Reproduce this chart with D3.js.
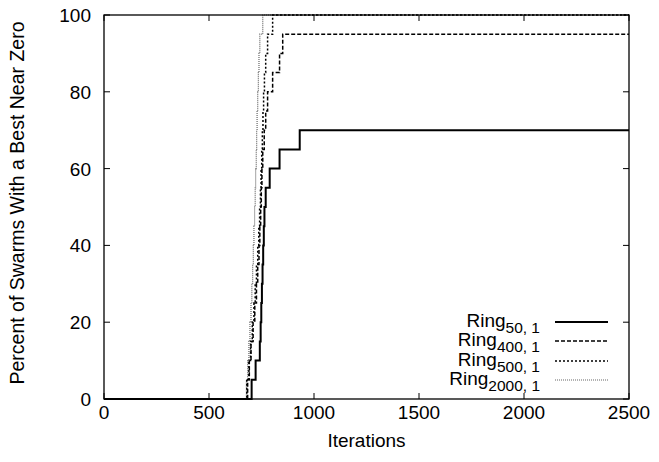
<!DOCTYPE html>
<html>
<head>
<meta charset="utf-8">
<script src="https://cdn.jsdelivr.net/npm/d3@7"></script>
<style>
  html, body { margin: 0; padding: 0; background: #fff; }
  svg { display: block; font-family: "Liberation Sans", Arial, Helvetica, sans-serif; }
</style>
</head>
<body>
<svg id="chart" width="659" height="462"></svg>
<script>
// Step curves: percent of swarms whose best is near zero, by iteration
const ring50Iter  = [0, 703, 722, 742, 746, 749, 752, 755, 758, 761, 764, 770, 789, 836, 932, 2500];
const ring50Pct   = [0, 5, 10, 15, 20, 25, 30, 35, 40, 45, 50, 55, 60, 65, 70, 70];

const ring400Iter = [0, 684, 692, 700, 710, 718, 726, 732, 738, 742, 746, 749, 752, 756, 763, 770, 779, 803, 836, 851, 2500];
const ring400Pct  = [0, 5, 10, 15, 20, 25, 30, 35, 40, 45, 50, 55, 60, 65, 70, 75, 80, 85, 90, 95, 95];

const ring500Iter = [0, 680, 690, 698, 706, 714, 720, 726, 732, 737, 741, 745, 748, 751, 754, 757, 760, 764, 770, 779, 803, 2500];
const ring500Pct  = [0, 5, 10, 15, 20, 25, 30, 35, 40, 45, 50, 55, 60, 65, 70, 75, 80, 85, 90, 95, 100, 100];

const ring2000Iter = [0, 678, 684, 690, 695, 700, 704, 708, 711, 714, 717, 720, 722, 725, 727, 729, 732, 735, 738, 742, 756, 2500];
const ring2000Pct  = [0, 5, 10, 15, 20, 25, 30, 35, 40, 45, 50, 55, 60, 65, 70, 75, 80, 85, 90, 95, 100, 100];

const seriesNames = ["50, 1", "400, 1", "500, 1", "2000, 1"];
const xTicks = [0, 500, 1000, 1500, 2000, 2500];
const yTicks = [0, 20, 40, 60, 80, 100];

const svg = d3.select("#chart");
const W = 659, H = 462;
const plot = { left: 104, right: 629, top: 15, bottom: 399 };

svg.append("rect").attr("width", W).attr("height", H).attr("fill", "#fff");

const x = d3.scaleLinear().domain([0, 2500]).range([plot.left, plot.right]);
const y = d3.scaleLinear().domain([0, 100]).range([plot.bottom, plot.top]);

const styles = [
  { stroke: "#000", width: 2, dash: null },
  { stroke: "#000", width: 1.5, dash: "4,2" },
  { stroke: "#000", width: 1.5, dash: "2,2" },
  { stroke: "#666", width: 1.2, dash: "1,1" }
];

const series = [
  { iter: ring50Iter, pct: ring50Pct },
  { iter: ring400Iter, pct: ring400Pct },
  { iter: ring500Iter, pct: ring500Pct },
  { iter: ring2000Iter, pct: ring2000Pct }
].map((s, i) => ({ name: seriesNames[i], style: styles[i], pts: s.iter.map((v, j) => [v, s.pct[j]]) }));

const line = d3.line().x(d => x(d[0])).y(d => y(d[1])).curve(d3.curveStepAfter);

const fs = 19;

// ticks on all four sides, pointing inward
const tickLen = 6;
const axisG = svg.append("g").attr("stroke", "#000").attr("stroke-width", 1);
xTicks.forEach(t => {
  axisG.append("line").attr("x1", x(t)).attr("x2", x(t)).attr("y1", plot.bottom).attr("y2", plot.bottom - tickLen);
  axisG.append("line").attr("x1", x(t)).attr("x2", x(t)).attr("y1", plot.top).attr("y2", plot.top + tickLen);
});
yTicks.forEach(t => {
  axisG.append("line").attr("x1", plot.left).attr("x2", plot.left + tickLen).attr("y1", y(t)).attr("y2", y(t));
  axisG.append("line").attr("x1", plot.right).attr("x2", plot.right - tickLen).attr("y1", y(t)).attr("y2", y(t));
});

// curves (drawn from the last series so the solid one sits on top)
const curves = svg.append("g");
series.slice().reverse().forEach(s => {
  curves.append("path")
    .attr("d", line(s.pts))
    .attr("fill", "none")
    .attr("stroke", s.style.stroke)
    .attr("stroke-width", s.style.width)
    .attr("stroke-dasharray", s.style.dash);
});

// frame
svg.append("rect")
  .attr("x", plot.left).attr("y", plot.top)
  .attr("width", plot.right - plot.left).attr("height", plot.bottom - plot.top)
  .attr("fill", "none").attr("stroke", "#000").attr("stroke-width", 1.3);

// tick labels
svg.append("g").selectAll("text").data(xTicks).join("text")
  .attr("x", d => x(d)).attr("y", 419)
  .attr("text-anchor", "middle").attr("font-size", fs).attr("fill", "#000")
  .text(d => d);
svg.append("g").selectAll("text").data(yTicks).join("text")
  .attr("x", 91).attr("y", d => y(d) + 7)
  .attr("text-anchor", "end").attr("font-size", fs).attr("fill", "#000")
  .text(d => d);

// axis titles
svg.append("text").attr("x", (plot.left + plot.right) / 2).attr("y", 447)
  .attr("text-anchor", "middle").attr("font-size", fs).text("Iterations");
svg.append("text")
  .attr("transform", `translate(24,${(plot.top + plot.bottom) / 2 - 4}) rotate(-90)`)
  .attr("text-anchor", "middle").attr("font-size", 19.5)
  .text("Percent of Swarms With a Best Near Zero");

// legend
const legY = [322, 341, 361, 380];
const leg = svg.append("g");
series.forEach((s, i) => {
  const t = leg.append("text")
    .attr("x", 540).attr("y", legY[i] + 5)
    .attr("text-anchor", "end").attr("font-size", fs).attr("fill", "#000");
  t.append("tspan").text("Ring");
  t.append("tspan").attr("dy", 6).attr("font-size", 15.5).text(s.name);
  leg.append("line")
    .attr("x1", 555).attr("x2", 608).attr("y1", legY[i]).attr("y2", legY[i])
    .attr("stroke", s.style.stroke).attr("stroke-width", s.style.width)
    .attr("stroke-dasharray", s.style.dash);
});
</script>
</body>
</html>
